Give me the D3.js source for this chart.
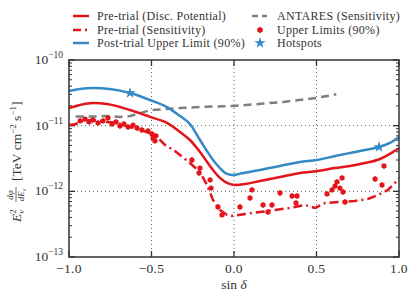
<!DOCTYPE html>
<html>
<head>
<meta charset="utf-8">
<script src="https://cdn.jsdelivr.net/npm/d3@7"></script>
<style>
  body { margin: 0; background: #fff; }
</style>
</head>
<body>
<script>
// values (sin dec, E^2 dphi/dE in TeV cm^-2 s^-1)
const sinPost = [-1.0, -0.933, -0.855, -0.752, -0.63, -0.509, -0.406, -0.327, -0.267, -0.206, -0.127, -0.085, -0.042, -0.006, 0.055, 0.158, 0.279, 0.4, 0.503, 0.612, 0.703, 0.794, 0.879, 0.945, 1.0];
const postUL = [3.37e-11, 3.61e-11, 3.75e-11, 3.61e-11, 3.14e-11, 2.46e-11, 1.92e-11, 1.40e-11, 1.06e-11, 6.05e-12, 3.0e-12, 2.26e-12, 1.84e-12, 1.77e-12, 1.90e-12, 2.11e-12, 2.43e-12, 2.80e-12, 3.0e-12, 3.45e-12, 3.84e-12, 4.26e-12, 4.73e-12, 5.45e-12, 6.71e-12];

const sinDisc = [-1.0, -0.933, -0.855, -0.770, -0.63, -0.509, -0.406, -0.327, -0.267, -0.206, -0.127, -0.085, -0.042, 0.006, 0.067, 0.158, 0.279, 0.4, 0.503, 0.612, 0.703, 0.794, 0.885, 0.945, 1.0];
const discPot = [1.86e-11, 2.07e-11, 2.21e-11, 2.14e-11, 1.73e-11, 1.36e-11, 1.10e-11, 8.0e-12, 6.05e-12, 3.97e-12, 2.11e-12, 1.60e-12, 1.34e-12, 1.25e-12, 1.29e-12, 1.44e-12, 1.65e-12, 1.90e-12, 2.04e-12, 2.26e-12, 2.43e-12, 2.70e-12, 3.11e-12, 3.71e-12, 4.57e-12];

const sinSens = [-1.0, -0.964, -0.921, -0.855, -0.770, -0.709, -0.63, -0.57, -0.509, -0.467, -0.418, -0.358, -0.267, -0.206, -0.164, -0.127, -0.085, -0.042, -0.006, 0.067, 0.158, 0.248, 0.339, 0.43, 0.491, 0.552, 0.642, 0.733, 0.812, 0.873, 0.933, 0.97, 1.0];
const sens = [1.02e-11, 1.05e-11, 1.18e-11, 1.22e-11, 1.14e-11, 1.10e-11, 9.55e-12, 8.6e-12, 7.73e-12, 6.71e-12, 5.08e-12, 4.11e-12, 2.70e-12, 1.97e-12, 1.25e-12, 7.38e-13, 5.2e-13, 4.37e-13, 4.21e-13, 4.52e-13, 4.84e-13, 5.2e-13, 5.57e-13, 6.2e-13, 5.57e-13, 6.64e-13, 6.88e-13, 7.13e-13, 7.64e-13, 8.79e-13, 1.05e-12, 1.29e-12, 1.60e-12];

const sinAnt = [-0.96, -0.85, -0.75, -0.69, -0.63, -0.57, -0.509, -0.43, -0.33, -0.2, 0.0, 0.16, 0.30, 0.5, 0.62];
const antares = [1.38e-11, 1.38e-11, 1.40e-11, 1.35e-11, 1.40e-11, 1.55e-11, 1.72e-11, 1.78e-11, 1.85e-11, 1.93e-11, 2.0e-11, 2.15e-11, 2.3e-11, 2.65e-11, 3.0e-11];

const sinUL = [-0.933, -0.903, -0.879, -0.855, -0.824, -0.794, -0.764, -0.739, -0.715, -0.691, -0.667, -0.642, -0.612, -0.588, -0.558, -0.521, -0.497, -0.491, -0.479, -0.473, -0.255, -0.206, -0.212, -0.145, -0.139, -0.097, -0.073, 0.036, 0.097, 0.109, 0.176, 0.23, 0.206, 0.279, 0.352, 0.382, 0.376, 0.564, 0.594, 0.612, 0.624, 0.655, 0.642, 0.661, 0.673, 0.855, 0.897, 0.909];
const upperLim = [1.18e-11, 1.26e-11, 1.14e-11, 1.22e-11, 1.10e-11, 1.18e-11, 1.31e-11, 1.06e-11, 1.14e-11, 9.89e-12, 1.06e-11, 9.55e-12, 1.02e-11, 9.22e-12, 8.6e-12, 8.3e-12, 7.46e-12, 6.49e-12, 5.85e-12, 6.97e-12, 3.0e-12, 2.26e-12, 1.90e-12, 1.49e-12, 1.12e-12, 5.78e-13, 4.37e-13, 5.78e-13, 7.92e-13, 1.05e-12, 6.2e-13, 6.2e-13, 4.84e-13, 9.44e-13, 8.49e-13, 8.49e-13, 6.64e-13, 9.12e-13, 1.05e-12, 1.20e-12, 1.39e-12, 1.60e-12, 1.12e-12, 9.77e-13, 6.88e-13, 1.54e-12, 1.25e-12, 2.43e-12];

const sinHot = [-0.63, 0.879];
const hotspots = [3.14e-11, 4.73e-12];

const xTicks = [-1.0, -0.5, 0.0, 0.5, 1.0];
const yTicks = [-13, -12, -11, -10];

const red = "#e3151b", blue = "#3589c6", grey = "#7f7f7f";
const serif = "Liberation Serif";

const width = 415, height = 300;
const svg = d3.select("body").append("svg").attr("width", width).attr("height", height);

const x = d3.scaleLinear().domain([-1, 1]).range([69, 399]);
const y = d3.scaleLog().domain([1e-13, 1e-10]).range([257, 60]);

// grid
const grid = svg.append("g").attr("stroke", "#666").attr("stroke-width", 1).attr("stroke-dasharray", "1,3");
grid.selectAll("line.v").data([-0.5, 0, 0.5]).join("line").attr("class", "v")
    .attr("x1", d => x(d)).attr("x2", d => x(d)).attr("y1", y.range()[1]).attr("y2", y.range()[0]);
grid.selectAll("line.h").data([1e-12, 1e-11]).join("line").attr("class", "h")
    .attr("y1", d => y(d)).attr("y2", d => y(d)).attr("x1", x.range()[0]).attr("x2", x.range()[1]);

// ticks, inward, on all four sides
const minor = [];
for (let e = -13; e < -10; e++) for (let m = 2; m < 10; m++) minor.push(m * Math.pow(10, e));
const tk = svg.append("g").attr("stroke", "#333").attr("stroke-width", 1);
[[x.range()[0], 1], [x.range()[1], -1]].forEach(([x0, dir]) => {
  tk.append("g").selectAll("line").data(minor).join("line")
    .attr("x1", x0).attr("x2", x0 + dir * 3).attr("y1", d => y(d)).attr("y2", d => y(d));
  tk.append("g").selectAll("line").data(yTicks).join("line").attr("stroke-width", 1.3)
    .attr("x1", x0).attr("x2", x0 + dir * 6).attr("y1", d => y(Math.pow(10, d))).attr("y2", d => y(Math.pow(10, d)));
});
[[y.range()[0], -1], [y.range()[1], 1]].forEach(([y0, dir]) => {
  tk.append("g").selectAll("line").data(xTicks).join("line").attr("stroke-width", 1.3)
    .attr("x1", d => x(d)).attr("x2", d => x(d)).attr("y1", y0).attr("y2", y0 + dir * 6);
});

// curves
const line = (xs, ys, curve) => d3.line().curve(curve || d3.curveMonotoneX)
  .x((d, i) => x(xs[i])).y(d => y(d))(ys);

svg.append("path").attr("d", line(sinAnt, antares, d3.curveLinear)).attr("fill", "none")
  .attr("stroke", grey).attr("stroke-width", 2.5).attr("stroke-dasharray", "8,5");
svg.append("path").attr("d", line(sinSens, sens, d3.curveLinear)).attr("fill", "none")
  .attr("stroke", red).attr("stroke-width", 2.5).attr("stroke-dasharray", "9,4,2,4");
svg.append("path").attr("d", line(sinDisc, discPot)).attr("fill", "none")
  .attr("stroke", red).attr("stroke-width", 2.5);
svg.append("path").attr("d", line(sinPost, postUL)).attr("fill", "none")
  .attr("stroke", blue).attr("stroke-width", 2.5);

// hexagon marker like matplotlib "h"
const hexagon = {
  draw(ctx, size) {
    const r = Math.sqrt(size / 2.598);
    for (let i = 0; i < 6; i++) {
      const a = Math.PI / 2 + i * Math.PI / 3;
      const px = r * Math.cos(a), py = r * Math.sin(a);
      if (i === 0) ctx.moveTo(px, py); else ctx.lineTo(px, py);
    }
    ctx.closePath();
  }
};

svg.append("g").selectAll("path").data(upperLim).join("path")
  .attr("d", d3.symbol().type(hexagon).size(22))
  .attr("transform", (d, i) => `translate(${x(sinUL[i])},${y(d)})`)
  .attr("fill", red);

svg.append("g").selectAll("path").data(hotspots).join("path")
  .attr("d", d3.symbol().type(d3.symbolStar).size(40))
  .attr("transform", (d, i) => `translate(${x(sinHot[i])},${y(d)})`)
  .attr("fill", blue);

// frame
svg.append("rect").attr("x", x.range()[0]).attr("y", y.range()[1])
  .attr("width", x.range()[1] - x.range()[0]).attr("height", y.range()[0] - y.range()[1])
  .attr("fill", "none").attr("stroke", "#333").attr("stroke-width", 1.5);

// all text in one group so it shares the serif face
const txt = svg.append("g").attr("fill", "#333").attr("font-family", serif);

// tick labels
txt.append("g").selectAll("text").data(xTicks).join("text")
  .attr("x", d => x(d)).attr("y", 273).attr("text-anchor", "middle").attr("font-size", 13.5)
  .attr("letter-spacing", 0.3)
  .text(d => d3.format(".1f")(d).replace("-", "\u2212"));

const yl = txt.append("g").selectAll("text").data(yTicks).join("text")
  .attr("x", 63).attr("y", d => y(Math.pow(10, d)) + 4).attr("text-anchor", "end").attr("font-size", 13.5);
yl.append("tspan").text("10");
yl.append("tspan").attr("dy", -6).attr("font-size", 9.5).text(d => "\u2212" + (-d));

const xl = txt.append("text").attr("x", x(0)).attr("y", 289).attr("text-anchor", "middle").attr("font-size", 13.5);
xl.append("tspan").text("sin ");
xl.append("tspan").attr("font-style", "italic").text("δ");

// y label, built in a rotated frame
const ylab = txt.append("g").attr("transform", "translate(21,158) rotate(-90)");
const eT = ylab.append("text").attr("x", -64).attr("y", 0).attr("font-size", 13.5);
eT.append("tspan").attr("font-style", "italic").text("E");
eT.append("tspan").attr("dy", -5).attr("font-size", 9).text("2");
eT.append("tspan").attr("dx", -4.5).attr("dy", 8).attr("font-size", 9).attr("font-style", "italic").text("ν");
ylab.append("text").attr("x", -37).attr("y", -8).attr("text-anchor", "middle").attr("font-size", 9)
  .attr("font-style", "italic").text("dφ");
ylab.append("line").attr("x1", -44).attr("x2", -29).attr("y1", -5).attr("y2", -5)
  .attr("stroke", "#333").attr("stroke-width", 0.7);
const den = ylab.append("text").attr("x", -37).attr("y", 3).attr("text-anchor", "middle").attr("font-size", 9)
  .attr("font-style", "italic");
den.append("tspan").text("dE");
den.append("tspan").attr("dy", 2).attr("font-size", 6).text("ν");
const unit = ylab.append("text").attr("x", -23).attr("y", 0).attr("font-size", 13.5);
unit.append("tspan").text("[TeV cm");
unit.append("tspan").attr("dy", -5).attr("font-size", 9).text("\u22122");
unit.append("tspan").attr("dy", 5).text(" s");
unit.append("tspan").attr("dy", -5).attr("font-size", 9).text("\u22121");
unit.append("tspan").attr("dy", 5).text("]");

// legend
const leg = txt.append("g").attr("font-size", 12).attr("letter-spacing", 0.3);
const rows = [16, 30, 43];
const legLines = [
  { y: rows[0], color: red, dash: null, label: "Pre-trial (Disc. Potential)" },
  { y: rows[1], color: red, dash: "8,4,2,4", label: "Pre-trial (Sensitivity)" },
  { y: rows[2], color: blue, dash: null, label: "Post-trial Upper Limit (90%)" }
];
legLines.forEach(d => {
  leg.append("line").attr("x1", 73).attr("x2", 89).attr("y1", d.y).attr("y2", d.y)
    .attr("stroke", d.color).attr("stroke-width", 2.5).attr("stroke-dasharray", d.dash);
  leg.append("text").attr("x", 97).attr("y", d.y + 4).text(d.label);
});
leg.append("line").attr("x1", 252).attr("x2", 267).attr("y1", rows[0]).attr("y2", rows[0])
  .attr("stroke", grey).attr("stroke-width", 2.5).attr("stroke-dasharray", "6,4");
leg.append("text").attr("x", 277).attr("y", rows[0] + 4).text("ANTARES (Sensitivity)");
leg.append("path").attr("d", d3.symbol().type(hexagon).size(26)())
  .attr("transform", `translate(260,${rows[1]})`).attr("fill", red);
leg.append("text").attr("x", 277).attr("y", rows[1] + 4).text("Upper Limits (90%)");
leg.append("path").attr("d", d3.symbol().type(d3.symbolStar).size(40)())
  .attr("transform", `translate(260,${rows[2]})`).attr("fill", blue);
leg.append("text").attr("x", 277).attr("y", rows[2] + 4).text("Hotspots");
</script>
</body>
</html>
